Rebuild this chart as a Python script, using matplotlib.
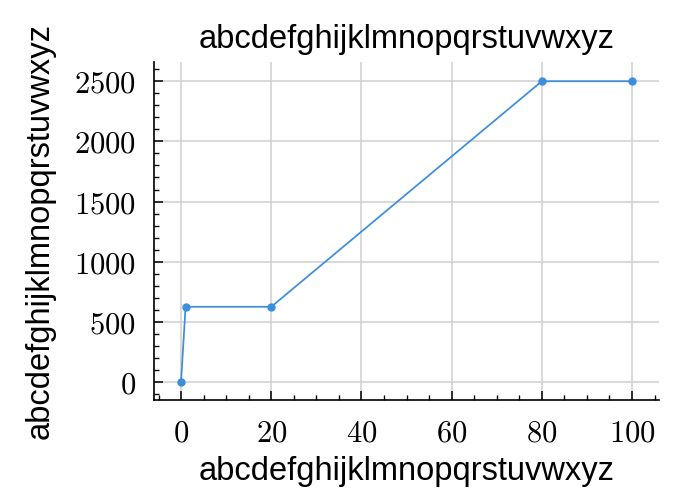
import matplotlib
matplotlib.use("Agg")
import matplotlib.pyplot as plt
from matplotlib.ticker import MultipleLocator, FuncFormatter

x_values = [0, 1, 20, 80, 100]
y_values = [0, 625, 625, 2500, 2500]
x_ticks = [0, 20, 40, 60, 80, 100]
y_ticks = [0, 500, 1000, 1500, 2000, 2500]
title_text = "abcdefghijklmnopqrstuvwxyz"
xlabel_text = "abcdefghijklmnopqrstuvwxyz"
ylabel_text = "abcdefghijklmnopqrstuvwxyz"

plt.rcParams["mathtext.fontset"] = "cm"
plt.rcParams["font.family"] = ["Liberation Sans", "DejaVu Sans"]

fig = plt.figure(figsize=(6.76, 5.0), dpi=100)
ax = fig.add_axes([0.2278, 0.2, 0.975 - 0.2278, 0.876 - 0.2])

ax.plot(x_values, y_values, color="#3a8edb", linewidth=1.25, marker="o",
        markersize=5.0, zorder=3)

ax.set_xlim(-6, 106)
ax.set_ylim(-150, 2660)
ax.set_xticks(x_ticks)
ax.set_yticks(y_ticks)
ax.xaxis.set_minor_locator(MultipleLocator(5))
ax.yaxis.set_minor_locator(MultipleLocator(100))
fmt = FuncFormatter(lambda v, p: r"$%d$" % round(v))
ax.xaxis.set_major_formatter(fmt)
ax.yaxis.set_major_formatter(fmt)

ax.grid(True, which="major", color="#cfcfcf", linewidth=1.1, zorder=0)
ax.set_axisbelow(True)
for s in ["top", "right"]:
    ax.spines[s].set_visible(False)
for s in ["left", "bottom"]:
    ax.spines[s].set_linewidth(1.2)

ax.tick_params(which="major", direction="in", length=6.5, width=1.1,
               labelsize=22, pad=13)
ax.tick_params(which="minor", direction="in", length=3.5, width=1.0)

ax.set_title(title_text, fontsize=23.5, pad=10)
ax.set_xlabel(xlabel_text, fontsize=23.5, labelpad=6)
ax.set_ylabel(ylabel_text, fontsize=23.5, labelpad=13)

fig.savefig("out.png", dpi=100)
